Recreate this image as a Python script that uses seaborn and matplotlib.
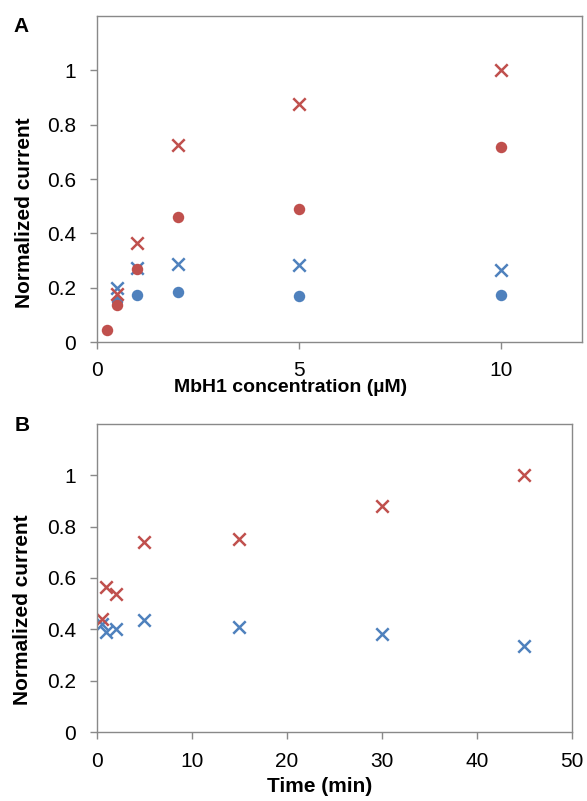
import numpy as np
import pandas as pd
import matplotlib
matplotlib.use('Agg')
import matplotlib.pyplot as plt
import seaborn as sns
from matplotlib.ticker import FormatStrFormatter

# panel A: concentration series (uM)
conc_red_x = [0.5, 1, 2, 5, 10]
red_x_A = [0.175, 0.364, 0.727, 0.876, 1.0]
conc_red_o = [0.25, 0.5, 1, 2, 5, 10]
red_o_A = [0.043, 0.137, 0.269, 0.46, 0.49, 0.719]
conc_blue_x = [0.5, 1, 2, 5, 10]
blue_x_A = [0.20, 0.272, 0.287, 0.285, 0.266]
conc_blue_o = [0.5, 1, 2, 5, 10]
blue_o_A = [0.15, 0.172, 0.183, 0.17, 0.172]

# panel B: time series (min)
time_pts = [0.5, 1, 2, 5, 15, 30, 45]
red_x_B = [0.44, 0.565, 0.538, 0.74, 0.752, 0.878, 1.0]
blue_x_B = [0.42, 0.39, 0.40, 0.435, 0.41, 0.38, 0.337]

red = '#C0504D'
blue = '#4F81BD'

sns.set_style('white')
plt.rcParams['font.family'] = ['Liberation Sans', 'DejaVu Sans']
plt.rcParams['text.color'] = 'black'
plt.rcParams['axes.labelcolor'] = 'black'

fig = plt.figure(figsize=(5.87, 8.01), dpi=100)
axA = fig.add_axes([0.165, 0.573, 0.826, 0.407])
axB = fig.add_axes([0.165, 0.086, 0.809, 0.385])

ms_o, ms_x, lw_x = 68, 80, 1.8
sns.scatterplot(x=conc_blue_o, y=blue_o_A, ax=axA, color=blue, marker='o', s=ms_o, linewidth=0)
sns.scatterplot(x=conc_blue_x, y=blue_x_A, ax=axA, color=blue, marker='x', s=ms_x, linewidth=lw_x)
sns.scatterplot(x=conc_red_x, y=red_x_A, ax=axA, color=red, marker='x', s=ms_x, linewidth=lw_x)
sns.scatterplot(x=conc_red_o, y=red_o_A, ax=axA, color=red, marker='o', s=ms_o, linewidth=0)

sns.scatterplot(x=time_pts, y=blue_x_B, ax=axB, color=blue, marker='x', s=ms_x, linewidth=lw_x)
sns.scatterplot(x=time_pts, y=red_x_B, ax=axB, color=red, marker='x', s=ms_x, linewidth=lw_x)

axA.set_xlim(0, 12)
axA.set_xticks([0, 5, 10])
axB.set_xlim(0, 50)
axB.set_xticks([0, 10, 20, 30, 40, 50])

for ax in (axA, axB):
    ax.set_ylim(0, 1.2)
    ax.set_yticks([0, 0.2, 0.4, 0.6, 0.8, 1.0])
    ax.yaxis.set_major_formatter(FormatStrFormatter('%g'))
    ax.xaxis.set_major_formatter(FormatStrFormatter('%g'))
    for sp in ax.spines.values():
        sp.set_color('#898989')
        sp.set_linewidth(1)
    ax.tick_params(axis='both', direction='out', length=5, width=1, color='#898989',
                   labelsize=15, labelcolor='black')
    ax.tick_params(axis='y', pad=10)
    ax.tick_params(axis='x', pad=9)
    ax.tick_params(bottom=True, left=True)
    ax.set_ylabel('Normalized current', fontsize=15, fontweight='bold', va='center', color='black')

axA.set_xlabel('MbH1 concentration (\u00b5M)', fontsize=14, fontweight='bold', va='center', color='black')
axB.set_xlabel('Time (min)', fontsize=15, fontweight='bold', va='center', color='black')
axA.yaxis.set_label_coords(-0.15, 0.396)
axB.yaxis.set_label_coords(-0.157, 0.396)
axA.xaxis.set_label_coords(0.40, -0.141)
axB.xaxis.set_label_coords(0.469, -0.175)

fig.text(0.036, 0.9675, 'A', fontsize=15, fontweight='bold', ha='center', va='center', color='black')
fig.text(0.038, 0.469, 'B', fontsize=15, fontweight='bold', ha='center', va='center', color='black')

fig.savefig('out.png', dpi=100)
